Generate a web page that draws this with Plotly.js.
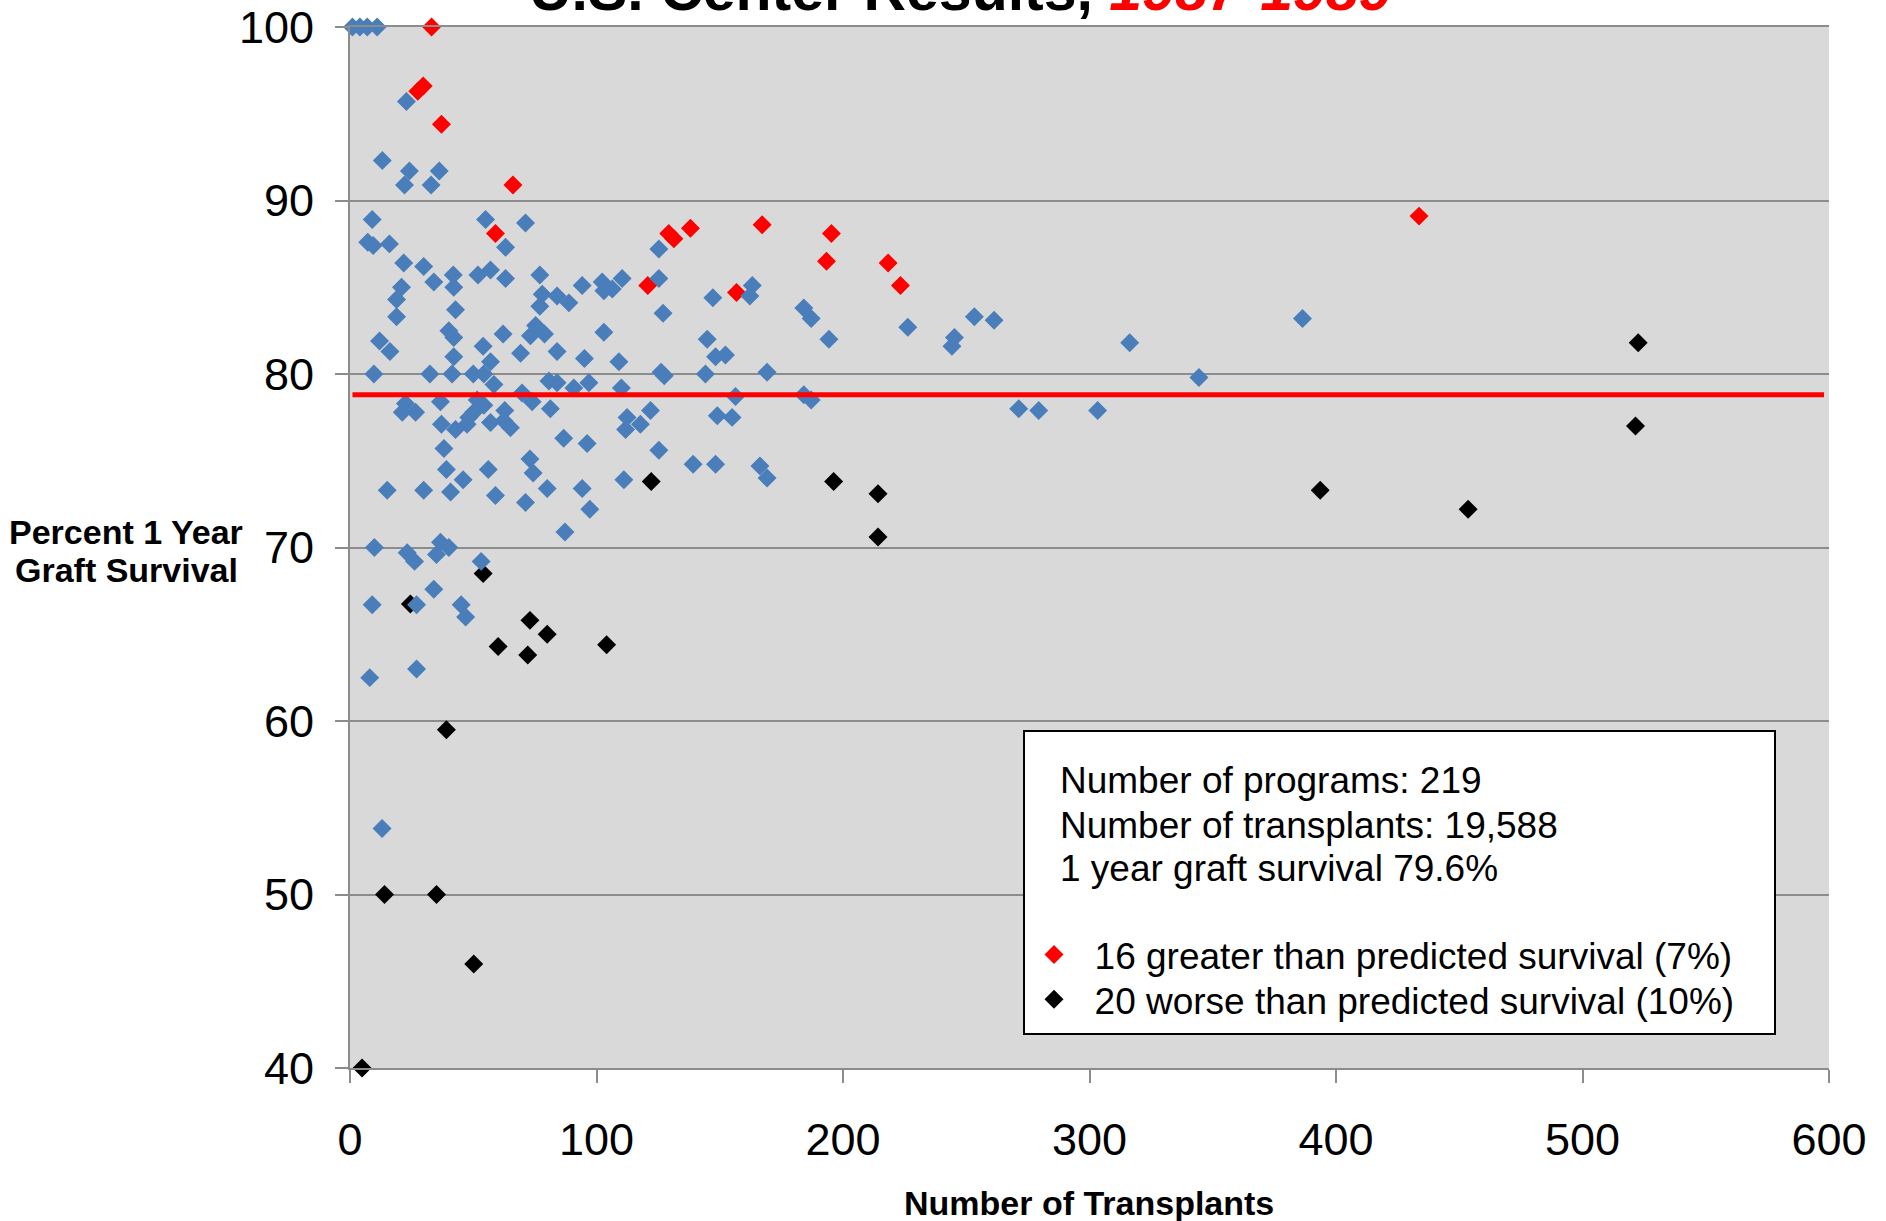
<!DOCTYPE html>
<html>
<head>
<meta charset="utf-8">
<script src="https://cdn.plot.ly/plotly-3.0.1.min.js"></script>
<style>
html,body{margin:0;padding:0;background:#ffffff;}
#chart{width:1886px;height:1221px;}
</style>
</head>
<body>
<div id="chart"></div>
<script>
// Programs with survival as predicted (blue)
const blueX = [1,4,7,11,
  22.9,13.1,24.1,22.1,36.2,32.9,
  9.0,55.0,71.2,7.2,9.4,16.0,63.1,125.3,21.8,29.9,41.9,34.0,42.1,20.9,18.9,18.9,51.9,57.0,63.1,77.0,78.0,77.0,84.0,88.8,94.2,102.3,103.0,106.4,110.4,125.3,147.2,163.2,162.2,127.0,42.8,40.1,42.1,62.1,75.3,73.2,78.9,69.2,84.0,103.0,95.1,109.1,12.0,16.2,54.0,57.0,42.1,144.9,148.3,152.3,184.1,187.1,194.3,144.2,169.2,126.2,127.5,9.7,32.4,41.4,50.0,54.3,58.4,80.7,84.0,90.8,96.9,110.1,69.8,73.9,81.3,36.7,22.5,26.6,21.2,51.6,54.3,48.2,50.2,62.8,37.1,42.8,47.5,57.0,62.4,65.1,86.7,96.2,112.4,111.8,117.8,121.9,156.4,149.0,155.0,184.1,187.1,38.1,125.3,73.0,74.3,39.1,56.1,45.9,139.2,148.3,166.3,169.2,111.1,15.1,29.9,40.8,80.0,94.2,59.0,71.2,97.3,
  87.2,9.9,23.2,26.2,36.7,40.1,35.1,53.2,9.0,27.0,34.0,45.1,46.9,8.0,27.0,
  13.0,
  226.3,245.2,244.2,253.3,261.3,316.3,344.4,271.3,279.4,303.3,
  386.4];
const blueY = [100,100,100,100,
  95.7,92.3,91.7,90.9,91.7,90.9,
  88.9,88.9,88.7,87.6,87.4,87.5,87.3,87.2,86.4,86.2,85.7,85.3,85.0,85.0,84.3,83.3,85.7,86.0,85.5,85.7,84.6,83.9,84.5,84.1,85.1,85.3,84.8,84.9,85.5,85.5,84.4,85.1,84.5,83.5,83.7,82.5,82.1,82.3,82.8,82.2,82.3,81.2,81.3,82.4,80.9,80.7,81.9,81.3,81.6,80.7,81.0,82.0,81.0,81.1,83.8,83.2,82.0,80.0,80.1,80.1,79.9,80.0,80.0,80.0,80.0,80.0,79.4,79.6,79.5,79.2,79.5,79.2,78.9,78.4,78.0,78.4,78.3,77.8,77.8,78.5,78.2,77.5,77.8,77.9,77.1,76.8,77.1,77.2,77.3,76.9,76.3,76.0,77.5,76.8,77.1,77.9,78.7,77.6,77.5,78.8,78.5,75.7,75.6,75.1,74.3,74.5,74.5,73.9,74.8,74.8,74.7,74.0,73.9,73.3,73.3,73.2,73.4,73.4,73.0,72.6,72.2,
  70.9,70.0,69.7,69.2,70.3,70.0,69.6,69.2,66.7,66.7,67.6,66.7,66.0,62.5,63.0,
  53.8,
  82.7,82.1,81.6,83.3,83.1,81.8,79.8,78.0,77.9,77.9,
  83.2];

// Greater than predicted survival (red)
const redX = [33.1,27.5,29.7,37.1,66.1,59.0,129.3,131.4,138.1,167.2,195.3,193.3,120.8,156.8,218.3,223.3,433.7];
const redY = [100,96.3,96.6,94.4,90.9,88.1,88.1,87.8,88.4,88.6,88.1,86.5,85.1,84.7,86.4,85.1,89.1];

// Worse than predicted survival (black)
const blackX = [122.2,196.2,54.0,24.5,73.0,80.0,60.1,72.1,104.1,39.1,14.0,35.1,50.2,4.9,214.2,214.2,393.6,453.6,522.6,521.5];
const blackY = [73.8,73.8,68.5,66.75,65.8,65.0,64.3,63.8,64.4,59.5,50.0,50.0,46.0,40.0,73.1,70.6,73.3,72.2,81.8,77.0];

// National mean line
const meanX = [1, 598];
const meanY = [78.8, 78.8];

const xTicks = [0,100,200,300,400,500,600];
const yTicks = [40,50,60,70,80,90,100];

const statLines = ['Number of programs: 219','Number of transplants: 19,588','1 year graft survival 79.6%'];
const redName = '16 greater than predicted survival (7%)';
const blackName = '20 worse than predicted survival (10%)';
const titleMain = 'U.S. Center Results, ';
const titleYears = '1987-1989';
const yTitleLines = ['Percent 1 Year','Graft Survival'];
const xTitle = 'Number of Transplants';

const FONT = 'Liberation Sans, Arial, Helvetica, sans-serif';
const MS = 14.6;
const GAP = '\u00a0\u00a0';

const traces = [
  {type:'scatter', mode:'markers', x:blackX, y:blackY, name:GAP + blackName, showlegend:true, legend:'legend2',
   marker:{symbol:'diamond', size:MS, color:'#000000', line:{width:0}}, cliponaxis:false},
  {type:'scatter', mode:'markers', x:redX, y:redY, name:GAP + redName, showlegend:true, legend:'legend',
   marker:{symbol:'diamond', size:MS, color:'#ff0000', line:{width:0}}, cliponaxis:false},
  {type:'scatter', mode:'markers', x:blueX, y:blueY, name:'As predicted', showlegend:false,
   marker:{symbol:'diamond', size:MS, color:'#4a7ebb', line:{width:0}}, cliponaxis:false},
  {type:'scatter', mode:'lines', x:meanX, y:meanY, showlegend:false,
   line:{color:'#ff0000', width:5}, hoverinfo:'skip'}
];

const L = 350, R = 57, T = 27, B = 153;
const plotW = 1886 - L - R, plotH = 1221 - T - B;
const px = v => (v - L) / plotW;
const py = v => 1 - (v - T) / plotH;

const annotations = [
  {xref:'paper', yref:'paper', x:px(960), y:py(25), xanchor:'center', yanchor:'bottom', showarrow:false,
   text:'<b>' + titleMain + '<i><span style="color:#ff0000">' + titleYears + '</span></i></b>',
   font:{family:FONT, size:59, color:'#000000'}},
  {xref:'paper', yref:'paper', x:px(1089), y:py(1203), xanchor:'center', yanchor:'middle', showarrow:false,
   text:'<b>' + xTitle + '</b>', font:{family:FONT, size:34, color:'#000000'}}
];
const yTitleY = [531.5, 569.5];
yTitleLines.forEach((t,i) => annotations.push({xref:'paper', yref:'paper', x:px(126), y:py(yTitleY[i]),
  xanchor:'center', yanchor:'middle', showarrow:false, text:'<b>' + t + '</b>',
  font:{family:FONT, size:34, color:'#000000'}}));
const statY = [780.6, 825, 868.4];
statLines.forEach((t,i) => annotations.push({xref:'paper', yref:'paper', x:px(1058), y:py(statY[i]),
  xanchor:'left', yanchor:'middle', showarrow:false, text:t, font:{family:FONT, size:37, color:'#000000'}}));

const legendBase = {xanchor:'left', yanchor:'top', bgcolor:'rgba(0,0,0,0)', borderwidth:0,
  font:{family:FONT, size:37, color:'#000000'}, itemsizing:'trace'};

const layout = {
  width:1886, height:1221,
  margin:{l:L, r:R, t:T, b:B, pad:0},
  paper_bgcolor:'#ffffff', plot_bgcolor:'#d9d9d9',
  font:{family:FONT, color:'#000000'},
  showlegend:true,
  legend:Object.assign({}, legendBase, {x:px(1034), y:py(924)}),
  legend2:Object.assign({}, legendBase, {x:px(1034), y:py(968.7)}),
  xaxis:{range:[0,600], tickvals:xTicks, ticktext:xTicks.map(String), showgrid:false, zeroline:false,
    showline:true, mirror:true, linecolor:'#8c8c8c', linewidth:2,
    ticks:'outside', ticklen:13, tickwidth:2, tickcolor:'#8c8c8c',
    tickfont:{family:FONT, size:45, color:'#000000'}, ticklabelstandoff:18, fixedrange:true},
  yaxis:{range:[40,100], tickvals:yTicks, ticktext:yTicks.map(String), showgrid:true, gridcolor:'#8c8c8c', gridwidth:2,
    zeroline:false, showline:true, linecolor:'#8c8c8c', linewidth:2,
    ticks:'outside', ticklen:13, tickwidth:2, tickcolor:'#8c8c8c',
    tickfont:{family:FONT, size:45, color:'#000000'}, ticklabelstandoff:12, fixedrange:true},
  shapes:[{type:'rect', xref:'paper', yref:'paper', x0:px(1024), x1:px(1775), y0:py(1034), y1:py(731),
    fillcolor:'#ffffff', line:{color:'#000000', width:2}, layer:'above'}],
  annotations:annotations
};

Plotly.newPlot('chart', traces, layout, {displayModeBar:false, staticPlot:true});
</script>
</body>
</html>
